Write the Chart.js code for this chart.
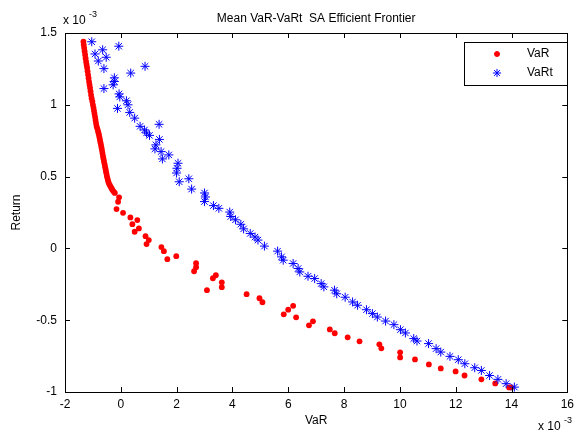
<!DOCTYPE html>
<html>
<head>
<meta charset="utf-8">
<script src="https://cdn.jsdelivr.net/npm/chart.js@4/dist/chart.umd.min.js"></script>
<style>
  html, body { margin: 0; padding: 0; background: #fff; }
  canvas { display: block; }
</style>
</head>
<body>
<canvas id="frontier" width="579" height="432"></canvas>
<script>
// Mean VaR / VaRt frontier points, both axes in units of 1e-3.
const varX = [-1.340, -1.329, -1.315, -1.297, -1.279, -1.262, -1.244, -1.226, -1.208, -1.191,
  -1.173, -1.155, -1.137, -1.120, -1.102, -1.084, -1.066, -1.045, -1.020, -0.999,
  -0.978, -0.960, -0.942, -0.924, -0.907, -0.889, -0.871, -0.846, -0.818, -0.800,
  -0.782, -0.765, -0.747, -0.729, -0.711, -0.694, -0.676, -0.658, -0.640, -0.623,
  -0.605, -0.587, -0.569, -0.552, -0.534, -0.516, -0.498, -0.481, -0.463, -0.442,
  -0.417, -0.388, -0.356, -0.328, -0.296, -0.257, -0.214,
  -0.062, -0.097, -0.154, 0.080, 0.343, 0.591, 0.414, 0.648, 0.496, 0.886,
  1.003, 0.922, 1.454, 1.543, 1.667, 1.987, 2.697, 2.697, 2.626, 3.406,
  3.300, 3.619, 3.619, 3.087, 4.507, 4.968, 5.075, 6.175, 5.998, 5.838,
  6.282, 6.885, 6.743, 7.489, 7.666, 8.128, 8.554, 9.264, 9.335, 10.009,
  10.009, 10.542, 11.039, 11.465, 11.997, 12.317, 12.920, 13.417, 13.914, 13.985];
const varY = [1.439, 1.418, 1.397, 1.373, 1.349, 1.324, 1.300, 1.279, 1.258, 1.233,
  1.209, 1.185, 1.160, 1.139, 1.118, 1.094, 1.069, 1.046, 1.023, 1.000,
  0.979, 0.958, 0.937, 0.916, 0.895, 0.874, 0.853, 0.836, 0.818, 0.804,
  0.790, 0.773, 0.755, 0.738, 0.721, 0.703, 0.686, 0.665, 0.644, 0.626,
  0.609, 0.591, 0.574, 0.557, 0.539, 0.522, 0.504, 0.490, 0.476, 0.462,
  0.448, 0.438, 0.427, 0.417, 0.406, 0.396, 0.386,
  0.356, 0.325, 0.274, 0.248, 0.216, 0.197, 0.169, 0.139, 0.116, 0.085,
  0.058, 0.030, 0.009, -0.019, -0.075, -0.054, -0.103, -0.131, -0.159, -0.187,
  -0.208, -0.236, -0.270, -0.291, -0.319, -0.347, -0.375, -0.400, -0.427, -0.459,
  -0.480, -0.508, -0.536, -0.564, -0.591, -0.619, -0.647, -0.668, -0.696, -0.724,
  -0.759, -0.773, -0.808, -0.836, -0.857, -0.885, -0.912, -0.940, -0.968, -0.968];

const vartX = [-1.042, -0.072, -0.651, -0.924, -0.523, -0.807, 0.868, -0.605, 0.354, -0.232,
  -0.232, -0.275, -0.605, -0.062, -0.037, 0.201, 0.258, -0.119, 0.318, 0.496,
  1.372, 0.691, 0.851, 0.922, 1.028, 1.383, 1.259, 1.223, 1.443, 1.720,
  1.490, 2.050, 2.015, 1.997, 2.093, 2.437, 2.537, 2.998, 3.034, 2.998,
  3.318, 3.513, 3.903, 3.939, 4.109, 4.301, 4.400, 4.638, 4.809, 4.915,
  5.146, 5.618, 5.760, 5.820, 6.175, 6.353, 6.413, 6.708, 6.946, 7.180,
  7.276, 7.656, 7.737, 8.039, 8.305, 8.483, 8.802, 9.015, 9.193, 9.487,
  9.786, 10.020, 10.198, 10.496, 10.613, 11.028, 11.298, 11.465, 11.795, 12.093,
  12.327, 12.682, 12.920, 13.215, 13.513, 13.808, 14.102];
const vartY = [1.439, 1.408, 1.383, 1.354, 1.331, 1.305, 1.268, 1.252, 1.221, 1.188,
  1.162, 1.139, 1.113, 1.076, 1.055, 1.028, 1.000, 0.975, 0.947, 0.907,
  0.864, 0.850, 0.825, 0.804, 0.787, 0.759, 0.721, 0.693, 0.674, 0.651,
  0.623, 0.593, 0.558, 0.525, 0.464, 0.485, 0.413, 0.386, 0.358, 0.326,
  0.298, 0.279, 0.253, 0.222, 0.199, 0.168, 0.136, 0.104, 0.079, 0.058,
  0.016, -0.019, -0.059, -0.082, -0.105, -0.140, -0.164, -0.194, -0.210, -0.245,
  -0.268, -0.291, -0.316, -0.340, -0.373, -0.396, -0.427, -0.454, -0.478, -0.506,
  -0.531, -0.566, -0.589, -0.628, -0.645, -0.663, -0.698, -0.722, -0.752, -0.775,
  -0.803, -0.831, -0.850, -0.885, -0.912, -0.942, -0.966];

const xTicks = [-2, 0, 2, 4, 6, 8, 10, 12, 14, 16];
const yTicks = [-1, -0.5, 0, 0.5, 1, 1.5];

const FONT = '"Liberation Sans", Arial, sans-serif';
const pairs = (xs, ys) => xs.map((x, i) => ({ x, y: ys[i] }));

const SERIES = [
  { label: 'VaR', data: pairs(varX, varY), color: '#ff0000', pointStyle: 'circle', radius: 2.9, order: 2 },
  { label: 'VaRt', data: pairs(vartX, vartY), color: '#0000ff', pointStyle: 'star', radius: 4.5, order: 1 },
];

function text(ctx, str, x, y, size, align, baseline) {
  ctx.font = `${size}px ${FONT}`;
  ctx.textAlign = align;
  ctx.textBaseline = baseline;
  ctx.fillText(str, x, y);
}

// MATLAB style frame: box, inward ticks, labels, exponents and legend.
const matlabFrame = {
  id: 'matlabFrame',
  afterDraw(chart) {
    const { ctx, chartArea: a, scales } = chart;
    ctx.save();
    ctx.strokeStyle = '#000';
    ctx.fillStyle = '#000';
    ctx.lineWidth = 1;
    ctx.strokeRect(Math.round(a.left) + 0.5, Math.round(a.top) + 0.5,
      Math.round(a.right - a.left), Math.round(a.bottom - a.top));

    ctx.beginPath();
    xTicks.forEach((v) => {
      const px = Math.round(scales.x.getPixelForValue(v)) + 0.5;
      ctx.moveTo(px, a.bottom); ctx.lineTo(px, a.bottom - 5);
      ctx.moveTo(px, a.top); ctx.lineTo(px, a.top + 5);
    });
    yTicks.forEach((v) => {
      const py = Math.round(scales.y.getPixelForValue(v)) + 0.5;
      ctx.moveTo(a.left, py); ctx.lineTo(a.left + 5, py);
      ctx.moveTo(a.right, py); ctx.lineTo(a.right - 5, py);
    });
    ctx.stroke();

    const cx = (a.left + a.right) / 2;
    text(ctx, 'Mean VaR-VaRt  SA Efficient Frontier', cx, 19, 12, 'center', 'middle');
    text(ctx, 'VaR', cx, 421, 12, 'center', 'middle');
    ctx.save();
    ctx.translate(17, (a.top + a.bottom) / 2);
    ctx.rotate(-Math.PI / 2);
    text(ctx, 'Return', 0, 0, 12, 'center', 'middle');
    ctx.restore();

    text(ctx, 'x 10', 63, 24, 12, 'left', 'alphabetic');
    text(ctx, '-3', 89, 17, 9, 'left', 'alphabetic');
    text(ctx, 'x 10', 538, 430, 12, 'left', 'alphabetic');
    text(ctx, '-3', 564, 423, 9, 'left', 'alphabetic');

    // legend
    ctx.fillStyle = '#fff';
    ctx.fillRect(464, 42, 103, 43);
    ctx.strokeRect(464.5, 42.5, 103, 43);
    SERIES.forEach((s, i) => {
      const y = 54 + i * 19;
      ctx.fillStyle = s.color;
      ctx.strokeStyle = s.color;
      ctx.lineWidth = 1;
      Chart.helpers.drawPoint(ctx, { pointStyle: s.pointStyle, radius: s.radius - 0.4, rotation: 0, borderWidth: 1 }, 497, y);
      ctx.fillStyle = '#000';
      text(ctx, s.label, 527, y, 12, 'left', 'middle');
    });
    ctx.restore();
  },
};

new Chart(document.getElementById('frontier'), {
  type: 'scatter',
  data: {
    datasets: SERIES.map((s) => ({
      label: s.label,
      data: s.data,
      order: s.order,
      showLine: false,
      pointStyle: s.pointStyle,
      pointRadius: s.radius,
      pointBackgroundColor: s.color,
      pointBorderColor: s.color,
      pointBorderWidth: s.pointStyle === 'star' ? 1 : 0,
    })),
  },
  options: {
    responsive: false,
    animation: false,
    layout: { padding: { top: 33, right: 8, left: 0, bottom: 0 } },
    scales: {
      x: {
        type: 'linear',
        min: -2,
        max: 16,
        afterBuildTicks: (scale) => { scale.ticks = xTicks.map((v) => ({ value: v })); },
        afterFit: (scale) => { scale.height = 40; },
        grid: { display: false, drawTicks: false },
        border: { display: false },
        ticks: { color: '#000', font: { family: FONT, size: 12 }, padding: 5, maxRotation: 0, callback: (v) => String(v) },
      },
      y: {
        type: 'linear',
        min: -1,
        max: 1.5,
        afterBuildTicks: (scale) => { scale.ticks = yTicks.map((v) => ({ value: v })); },
        afterFit: (scale) => { scale.width = 65; },
        grid: { display: false, drawTicks: false },
        border: { display: false },
        ticks: { color: '#000', font: { family: FONT, size: 12 }, padding: 8, callback: (v) => String(v) },
      },
    },
    plugins: {
      legend: { display: false },
      tooltip: { enabled: false },
    },
  },
  plugins: [matlabFrame],
});
</script>
</body>
</html>
